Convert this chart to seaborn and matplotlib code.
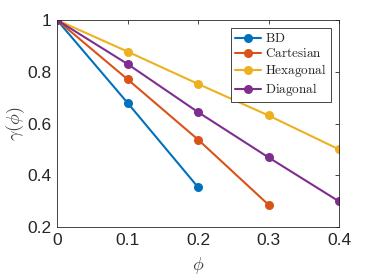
import numpy as np
import pandas as pd
import matplotlib
matplotlib.use("Agg")
import matplotlib.pyplot as plt
import seaborn as sns

# data
phi = [0.0, 0.1, 0.2, 0.3, 0.4]
bd = [1.0, 0.680, 0.354]
cartesian = [1.0, 0.771, 0.538, 0.286]
hexagonal = [1.0, 0.878, 0.753, 0.631, 0.500]
diagonal = [1.0, 0.830, 0.644, 0.469, 0.299]
names = ["BD", "Cartesian", "Hexagonal", "Diagonal"]
colors = ["#0072BD", "#D95319", "#EDB120", "#7E2F8E"]

rows = []
for name, vals in zip(names, [bd, cartesian, hexagonal, diagonal]):
    for x, y in zip(phi, vals):
        rows.append((name, x, y))
df = pd.DataFrame(rows, columns=["series", "phi", "gamma"])

sns.set_theme(style="white")
plt.rcParams["font.family"] = ["Liberation Sans", "DejaVu Sans"]
plt.rcParams["mathtext.fontset"] = "cm"

fig = plt.figure(figsize=(3.74, 2.8), dpi=100)
ax = fig.add_axes([57 / 374, 1 - 227 / 280, (339 - 57) / 374, (227 - 20) / 280])
sns.lineplot(data=df, x="phi", y="gamma", hue="series", hue_order=names,
             palette=colors, marker="o", markersize=6.5, markeredgewidth=0,
             linewidth=1.5, ax=ax, legend=True)

ax.set_xlim(0, 0.4)
ax.set_ylim(0.2, 1.0)
ax.set_xticks([0, 0.1, 0.2, 0.3, 0.4])
ax.set_xticklabels(["0", "0.1", "0.2", "0.3", "0.4"])
ax.set_yticks([0.2, 0.4, 0.6, 0.8, 1.0])
ax.set_yticklabels(["0.2", "0.4", "0.6", "0.8", "1"])
ax.tick_params(direction="in", length=3, width=0.6, labelsize=12.5,
               colors="#262626", top=True, right=True, pad=4)
for s in ax.spines.values():
    s.set_visible(True)
    s.set_color("#262626")
    s.set_linewidth(0.6)
ax.set_xlabel(r"$\phi$", fontsize=13, color="#404040", labelpad=5)
ax.set_ylabel(r"$\gamma(\phi)$", fontsize=13, color="#404040", labelpad=0)

handles, labels = ax.get_legend_handles_labels()
ax.legend(handles, [r"$\mathrm{%s}$" % l for l in labels], loc="upper right",
          bbox_to_anchor=(0.97, 0.96), fontsize=9.5, frameon=True, fancybox=False,
          edgecolor="#262626", framealpha=1, handlelength=2.0, handletextpad=0.3,
          borderpad=0.3, labelspacing=0.15, borderaxespad=0)
ax.get_legend().get_frame().set_linewidth(0.6)

fig.savefig("out.png", dpi=100)
